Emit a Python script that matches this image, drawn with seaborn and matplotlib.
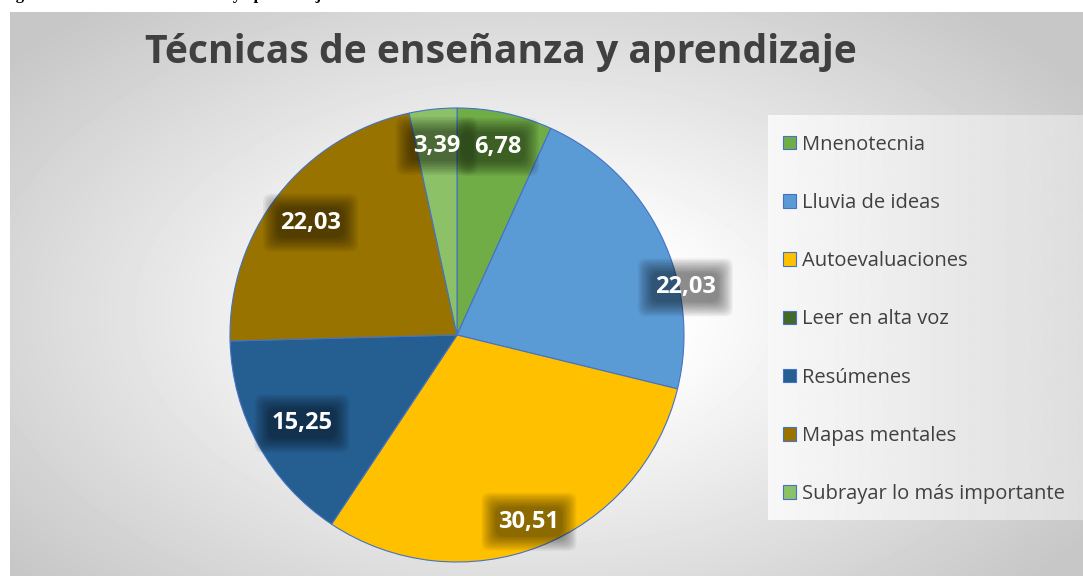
import numpy as np
import matplotlib
matplotlib.use("Agg")
import matplotlib.pyplot as plt
import seaborn as sns
from matplotlib.patches import Patch

# Data
categorias = ["Mnenotecnia", "Lluvia de ideas", "Autoevaluaciones", "Leer en alta voz",
              "Resúmenes", "Mapas mentales", "Subrayar lo más importante"]
porcentajes = [6.78, 22.03, 30.51, 0.0, 15.25, 22.03, 3.39]
colores = ["#70AD47", "#5B9BD5", "#FFC000", "#43682B", "#255E91", "#997300", "#8CC168"]

titulo = "Técnicas de enseñanza y aprendizaje"
leyenda_pie = "Figura 1. Técnicas de enseñanza y aprendizaje"

# label placement (fraction of radius, angle shift in degrees from the slice middle)
label_r = [0.86, 1.03, 0.87, 0.8, 0.78, 0.82, 0.85]
label_shift = [0, -13.5, 0, 0, 0, 0, 0]

sns.set_style("white")
plt.rcParams["font.family"] = ["Open Sans", "DejaVu Sans"]

W, H = 1083, 576
fig = plt.figure(figsize=(W / 100, H / 100), dpi=100)

# background panel with radial gradient
bg = fig.add_axes([10 / W, 0, 1 - 10 / W, 1 - 12 / H])
yy, xx = np.mgrid[0:564, 0:1073]
d = np.sqrt(((xx - 520) / 560.0) ** 2 + ((yy - 300) / 330.0) ** 2)
val = 1.0 - 0.22 * np.clip((d - 0.25) / 0.95, 0, 1)
bg.imshow(val, cmap="gray", vmin=0, vmax=1, aspect="auto", interpolation="bilinear")
bg.set_axis_off()

# legend background box
lg = fig.add_axes([768 / W, (H - 520) / H, (W - 768) / W, (520 - 115) / H])
grad = np.linspace(0.97, 0.87, 300)[None, :].repeat(10, axis=0)
lg.imshow(grad, cmap="gray", vmin=0, vmax=1, aspect="auto", interpolation="bilinear")
lg.set_axis_off()

# pie axes: center (457, 335), radius 227 px
cx, cy, r = 457, 335, 227
ax = fig.add_axes([(cx - r) / W, (H - cy - r) / H, 2 * r / W, 2 * r / H])
wedges, _ = ax.pie(porcentajes, colors=colores, startangle=90, counterclock=False,
                   wedgeprops=dict(edgecolor="#4472C4", linewidth=0.8))
ax.set_xlim(-1, 1)
ax.set_ylim(-1, 1)
ax.set_aspect("equal")

for w, v, rr, sh in zip(wedges, porcentajes, label_r, label_shift):
    if v == 0:
        continue
    ang = np.deg2rad((w.theta1 + w.theta2) / 2 + sh)
    x, y = rr * np.cos(ang), rr * np.sin(ang) - 0.012
    txt = f"{v:.2f}".replace(".", ",")
    # soft shadow box
    for pad in np.linspace(0.12, 0.72, 10):
        ax.text(x, y, txt, ha="center", va="center", fontsize=17, fontweight="bold",
                color="none", clip_on=False, zorder=4,
                bbox=dict(boxstyle=f"round,pad={pad:.3f},rounding_size=0.35",
                          fc="black", ec="none", alpha=0.055))
    ax.text(x, y, txt, ha="center", va="center", fontsize=17, fontweight="bold",
            color="white", clip_on=False, zorder=5)

# title
fig.text(501 / W, 1 - 63 / H, titulo, ha="center", va="baseline", fontsize=28.2,
         fontweight="bold", color="#404040")

# caption cut off at the top of the image (only descenders visible)
fig.text(1 / W, 1 + 1 / H, leyenda_pie, ha="left", va="baseline", fontsize=12,
         fontweight="bold", family=["Liberation Serif", "DejaVu Serif"], color="black")

handles = [Patch(facecolor=c, edgecolor="#4472C4", linewidth=0.8) for c in colores]
leg = fig.legend(handles, categorias, loc="center left",
                 bbox_to_anchor=(783 / W, (H - 319.5) / H), frameon=False,
                 fontsize=14.5, labelspacing=1.9, handlelength=0.65, handleheight=0.65,
                 handletextpad=0.3, borderpad=0, borderaxespad=0)
for t in leg.get_texts():
    t.set_color("#404040")

fig.savefig("out.png", dpi=100, facecolor="white")
